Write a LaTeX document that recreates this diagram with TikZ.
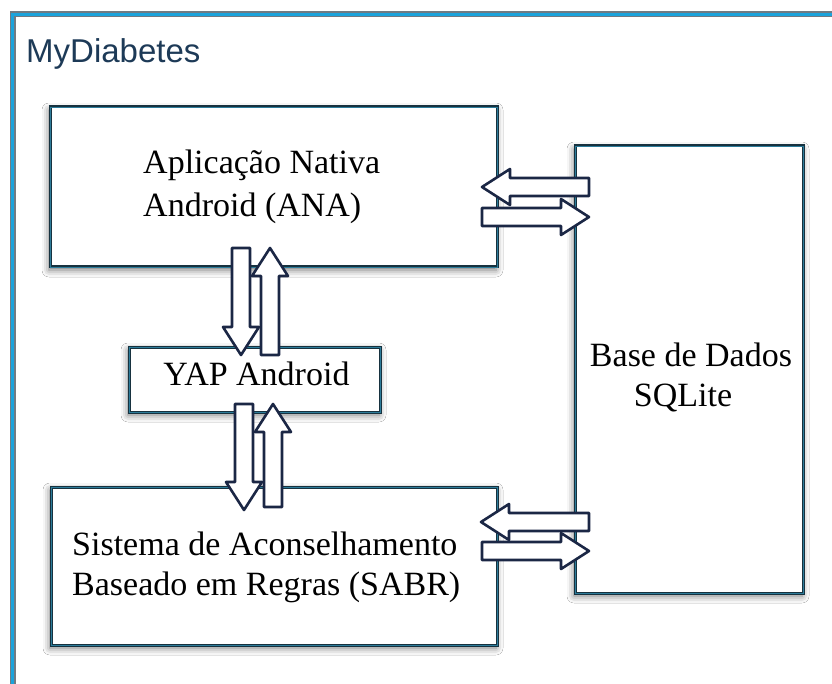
\documentclass[tikz,border=0pt]{standalone}
\usepackage{fontspec}
\setmainfont{Liberation Serif}
\newfontfamily\titlefont{Liberation Sans}
\usetikzlibrary{shadows.blur}
\definecolor{framegray}{HTML}{6F7B83}
\definecolor{frameblue}{HTML}{1AA3DC}
\definecolor{boxdark}{HTML}{17323F}
\definecolor{boxblue}{HTML}{2D7C9A}
\definecolor{arrowcol}{HTML}{1B2745}
\definecolor{titlecol}{HTML}{1D3A57}
% block arrow: #1 tail centre, #2 direction angle, #3 length
\newcommand\blkarrow[3]{%
  \draw[arrowline, shift={#1}, rotate=#2]
    (0,-9) -- (#3-28,-9) -- (#3-28,-18) -- (#3,0) -- (#3-28,18) -- (#3-28,9) -- (0,9) -- cycle;}
\begin{document}
\begin{tikzpicture}[x=1pt,y=-1pt,
  box/.style={draw=boxdark, line width=3pt, fill=white, inner sep=0pt,
    blur shadow={shadow xshift=-1pt, shadow yshift=-3pt, shadow blur radius=7pt, shadow opacity=55},
    postaction={draw=boxblue, line width=0.8pt}},
  label/.style={anchor=base west, inner sep=0pt, font=\fontsize{34}{40}\selectfont},
  clabel/.style={anchor=base, inner sep=0pt, font=\fontsize{34}{40}\selectfont},
  arrowline/.style={draw=arrowcol, fill=white, line width=2.6pt, line join=round}]
\useasboundingbox (0,0) rectangle (832,684);
\clip (0,0) rectangle (832,684);
\fill[white] (0,0) rectangle (832,684);
% outer frame
\draw[framegray, line width=6pt] (12.5,14.5) rectangle (900,760);
\draw[frameblue, line width=3pt] (12.5,14.5) rectangle (900,760);
\node[anchor=base west, inner sep=0pt, text=titlecol, font=\titlefont\fontsize{33}{40}\selectfont] (title) at (26,63) {MyDiabetes};
% boxes
\node[box, minimum width=447pt, minimum height=160pt] (ana) at (273.5,187) {};
\node[box, minimum width=251pt, minimum height=65pt] (yap) at (254.5,379.5) {};
\node[box, minimum width=446pt, minimum height=158pt] (sabr) at (274,566) {};
\node[box, minimum width=228pt, minimum height=447pt] (db) at (689,369.5) {};
% texts
\node[label] (ana1) at (143,174) {Aplicação Nativa};
\node[label] (ana2) at (143,217) {Android (ANA)};
\node[clabel] (yapt) at (256.5,385) {YAP Android};
\node[clabel] (db1) at (691,366) {Base de Dados};
\node[clabel] (db2) at (683,406) {SQLite};
\node[label] (sabr1) at (72,555) {Sistema de Aconselhamento};
\node[label] (sabr2) at (72,595) {Baseado em Regras (SABR)};
% block arrows between ANA and the database
\blkarrow{(589,187)}{180}{107}
\blkarrow{(482,217)}{0}{107}
% block arrows between SABR and the database
\blkarrow{(589,522)}{180}{108}
\blkarrow{(482,551)}{0}{107}
% block arrows ANA <-> YAP
\blkarrow{(241,248)}{-90}{107}
\blkarrow{(270,355)}{90}{107}
% block arrows YAP <-> SABR
\blkarrow{(244,404)}{-90}{106}
\blkarrow{(273,507)}{90}{103}
\end{tikzpicture}
\end{document}
